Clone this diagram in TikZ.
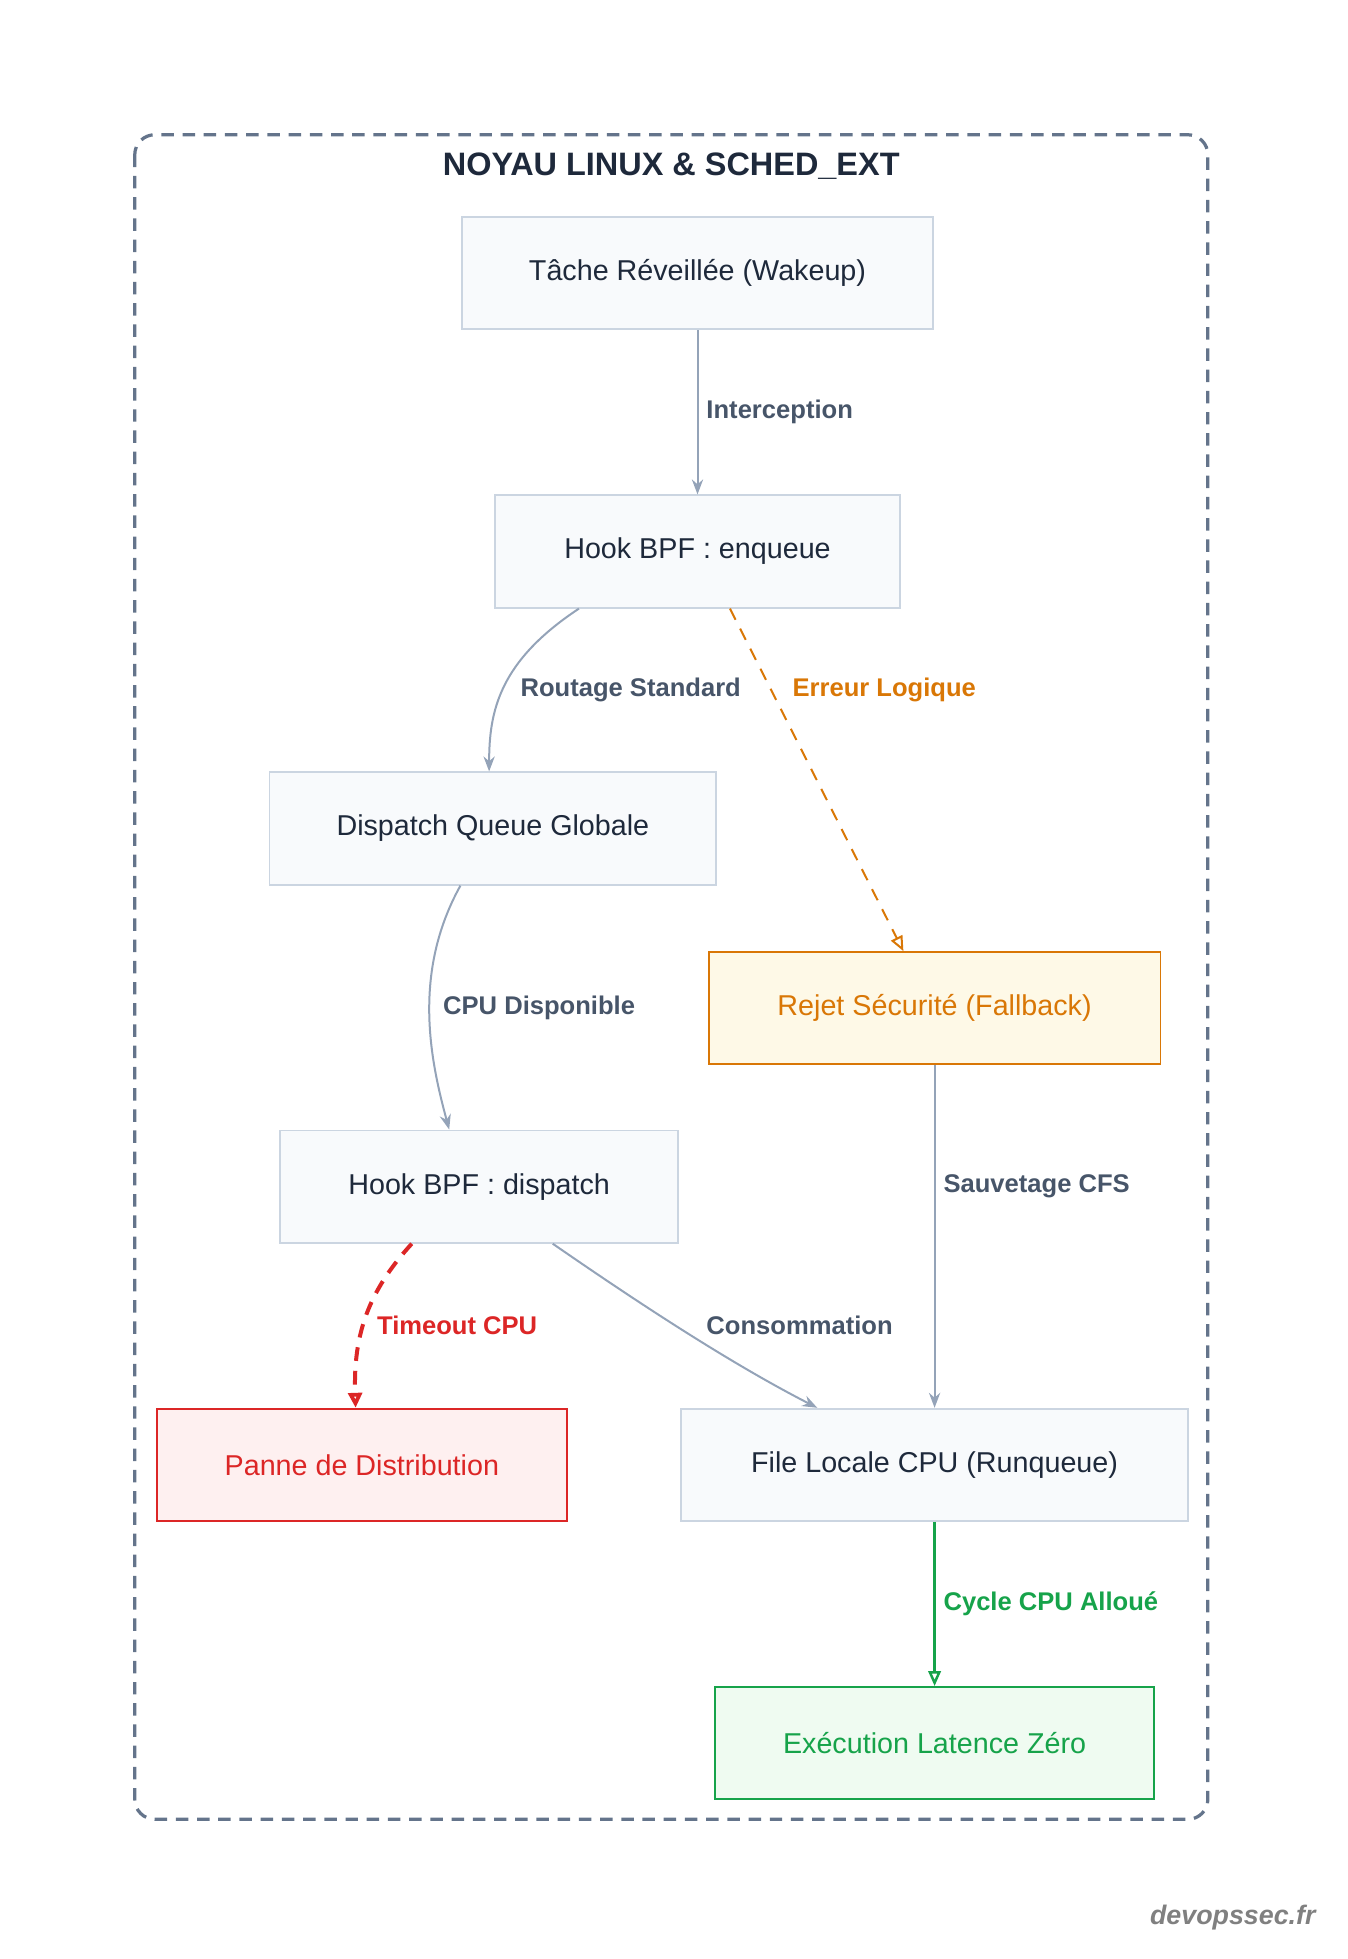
\documentclass[tikz,border=0pt]{standalone}
\usepackage{fontspec}
\setmainfont{Liberation Sans}
\usetikzlibrary{arrows.meta}
\definecolor{bxfill}{HTML}{F8FAFC}
\definecolor{bxline}{HTML}{CBD5E1}
\definecolor{edg}{HTML}{94A3B8}
\definecolor{lbl}{HTML}{475569}
\definecolor{txt}{HTML}{1E293B}
\definecolor{org}{HTML}{D97706}
\definecolor{orgf}{HTML}{FEF9E7}
\definecolor{red}{HTML}{DC2626}
\definecolor{redf}{HTML}{FEF0F0}
\definecolor{grn}{HTML}{16A34A}
\definecolor{grnf}{HTML}{EFFBF1}
\definecolor{frame}{HTML}{64748B}
\begin{document}
\begin{tikzpicture}[x=1pt,y=-1pt,
  box/.style={draw=bxline,fill=bxfill,line width=1.5pt,text=txt,font=\fontsize{23}{27}\selectfont,inner sep=0pt,minimum height=90pt},
  lab/.style={font=\bfseries\fontsize{20.5}{24}\selectfont,text=lab,anchor=west,inner sep=0pt},
  e/.style={draw=edg,line width=1.6pt,-{Stealth[length=12pt,width=9pt]}},
]
\colorlet{lab}{lbl}
\useasboundingbox (0,0) rectangle (1080,1570);
\draw[frame,line width=2.6pt,dash pattern=on 10pt off 7pt,rounded corners=16pt] (108,108) rectangle (968,1458);
\node[font=\bfseries\fontsize{26}{30}\selectfont,text=txt] (title) at (538,133) {NOYAU LINUX \& SCHED\_EXT};

\node[box,minimum width=378pt] (t) at (559,219) {Tâche Réveillée (Wakeup)};
\node[box,minimum width=324pt] (en) at (559,442) {Hook BPF : enqueue};
\node[box,minimum width=358pt] (dq) at (395,664) {Dispatch Queue Globale};
\node[box,minimum width=362pt,draw=org,fill=orgf,text=org] (rj) at (749,808) {Rejet Sécurité (Fallback)};
\node[box,minimum width=319pt] (hd) at (384,951) {Hook BPF : dispatch};
\node[box,minimum width=329pt,draw=red,fill=redf,text=red] (pn) at (290,1174) {Panne de Distribution};
\node[box,minimum width=406pt] (fl) at (749,1174) {File Locale CPU (Runqueue)};
\node[box,minimum width=352pt,draw=grn,fill=grnf,text=grn] (ex) at (749,1397) {Exécution Latence Zéro};

\draw[e] (t) -- (en);
\node[lab] (l1) at (566,330) {Interception};
\draw[e] ([xshift=-95pt]en.south) .. controls (400,530) and (392,570) .. ([xshift=-3pt]dq.north);
\node[lab] (l2) at (417,553) {Routage Standard};
\draw[draw=org,line width=1.6pt,dash pattern=on 10pt off 8pt,-{Triangle[open,length=12pt,width=10pt]}] ([xshift=26pt]en.south) -- ([xshift=-25pt]rj.north);
\node[lab,text=org] (l3) at (635,553) {Erreur Logique};
\draw[e] ([xshift=-26pt]dq.south) .. controls (330,780) and (345,850) .. ([xshift=-24pt]hd.north);
\node[lab] (l4) at (355,808) {CPU Disponible};
\draw[e] (rj) -- (fl);
\node[lab] (l5) at (756,951) {Sauvetage CFS};
\draw[draw=red,line width=3.2pt,dash pattern=on 11pt off 8pt,-{Triangle[open,length=12pt,width=11pt]}] ([xshift=-54pt]hd.south) .. controls (295,1035) and (283,1070) .. ([xshift=-5pt]pn.north);
\node[lab,text=red] (l6) at (302,1062) {Timeout CPU};
\draw[e] ([xshift=59pt]hd.south) .. controls (520,1050) and (590,1095) .. ([xshift=-94pt]fl.north);
\node[lab] (l7) at (566,1062) {Consommation};
\draw[draw=grn,line width=2pt,-{Triangle[open,length=12pt,width=10pt]}] (fl) -- (ex);
\node[lab,text=grn] (l8) at (756,1285) {Cycle CPU Alloué};

\node[font=\itshape\bfseries\fontsize{21.5}{25}\selectfont,text=gray,anchor=center] (wm) at (988,1537) {devopssec.fr};
\end{tikzpicture}
\end{document}
